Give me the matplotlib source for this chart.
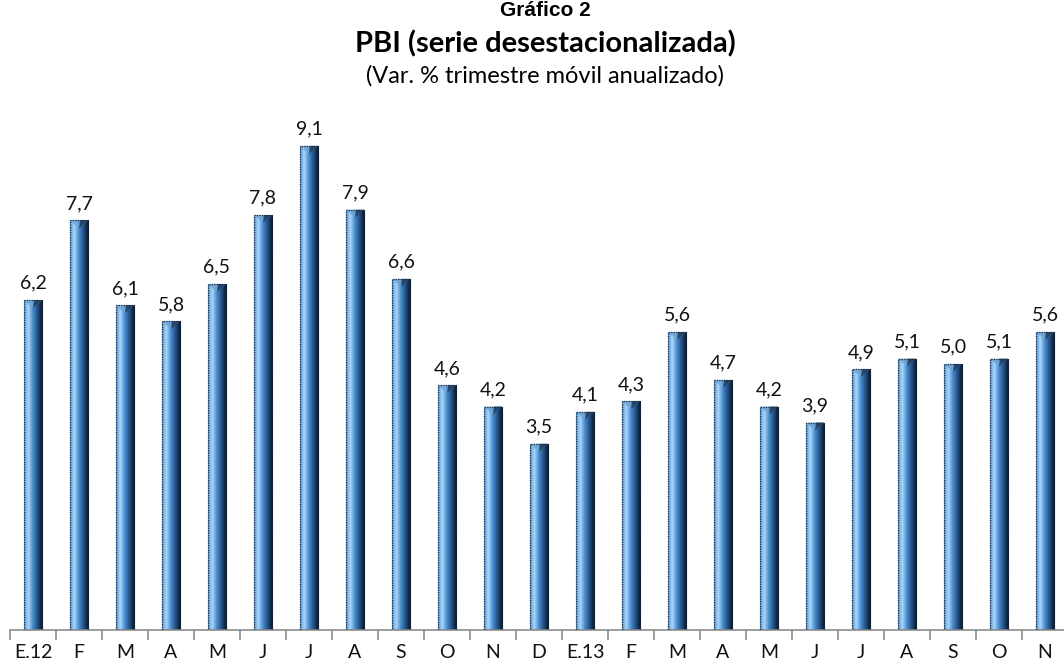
import numpy as np
import matplotlib
matplotlib.use("Agg")
import matplotlib.pyplot as plt
from matplotlib.colors import LinearSegmentedColormap

categories = ["E.12", "F", "M", "A", "M", "J", "J", "A", "S", "O", "N", "D",
              "E.13", "F", "M", "A", "M", "J", "J", "A", "S", "O", "N"]
values = [6.2, 7.7, 6.1, 5.8, 6.5, 7.8, 9.1, 7.9, 6.6, 4.6, 4.2, 3.5,
          4.1, 4.3, 5.6, 4.7, 4.2, 3.9, 4.9, 5.1, 5.0, 5.1, 5.6]
value_labels = [f"{v:.1f}".replace(".", ",") for v in values]

W, H = 1064, 670
fig = plt.figure(figsize=(W / 100, H / 100), dpi=100)
fig.patch.set_facecolor("white")

ax_left, ax_bottom = 10 / W, 40 / H
ax = fig.add_axes([ax_left, ax_bottom, 1058 / W, 530 / H])
n = len(values)
x = np.arange(n)
bw = 0.4
ax.set_xlim(-0.5, n - 0.5)
ax.set_ylim(0, 530 / 53.2)

cmap = LinearSegmentedColormap.from_list(
    "bar", [(0.0, "#5594d3"), (0.22, "#acd8fa"), (0.45, "#4d90d2"),
            (0.75, "#1f4a7c"), (1.0, "#08121f")])
grad = np.linspace(0, 1, 64).reshape(1, -1)

bars = ax.bar(x, values, width=bw, color="none", edgecolor="#1a2a3a",
              linewidth=0.9, linestyle=(0, (1, 1)), zorder=3)
for b in bars:
    x0, y0 = b.get_x(), b.get_y()
    w, h = b.get_width(), b.get_height()
    im = ax.imshow(grad, cmap=cmap, aspect="auto",
                   extent=(x0, x0 + w, y0, y0 + h), zorder=2,
                   interpolation="bicubic")
    im.set_clip_path(b)
    bev = 0.15
    ax.fill([x0, x0 + w, x0 + w * 0.5], [y0 + h, y0 + h, y0 + h - bev],
            color="#6fa6d8", alpha=0.8, zorder=2.5, lw=0)
    ax.fill([x0 + w * 0.55, x0 + w, x0 + w * 0.5], [y0 + h, y0 + h, y0 + h - bev],
            color="#0e2340", alpha=0.7, zorder=2.6, lw=0)

for xi, v, lab in zip(x, values, value_labels):
    ax.annotate(lab, (xi, v), xytext=(0, 6), textcoords="offset points",
                ha="center", va="bottom", fontsize=14, family="Lato",
                color="#111111")

for s in ["top", "right", "left"]:
    ax.spines[s].set_visible(False)
ax.spines["bottom"].set_color("#8c8c8c")
ax.spines["bottom"].set_linewidth(1.2)
ax.set_yticks([])
ax.set_xticks(np.arange(n + 1) - 0.5, minor=False)
ax.set_xticklabels([])
ax.tick_params(axis="x", which="major", length=7, color="#8c8c8c", width=1.2)
ax.set_xticks(x, minor=True)
ax.set_xticklabels(categories, minor=True, fontsize=14, family="Lato",
                   color="#111111")
ax.tick_params(axis="x", which="minor", length=0, pad=10)
ax.patch.set_visible(False)

fig.text(545 / W, 1 - 11 / H, "Gráfico 2", ha="center", va="center",
         fontsize=15, fontweight="bold", family="Liberation Sans")
fig.text(545 / W, 1 - 44 / H, "PBI (serie desestacionalizada)", ha="center",
         va="center", fontsize=21, fontweight="bold", family="Lato")
fig.text(545 / W, 1 - 76 / H, "(Var. % trimestre móvil anualizado)",
         ha="center", va="center", fontsize=17, family="Lato")

fig.savefig("out.png", dpi=100, facecolor="white")
